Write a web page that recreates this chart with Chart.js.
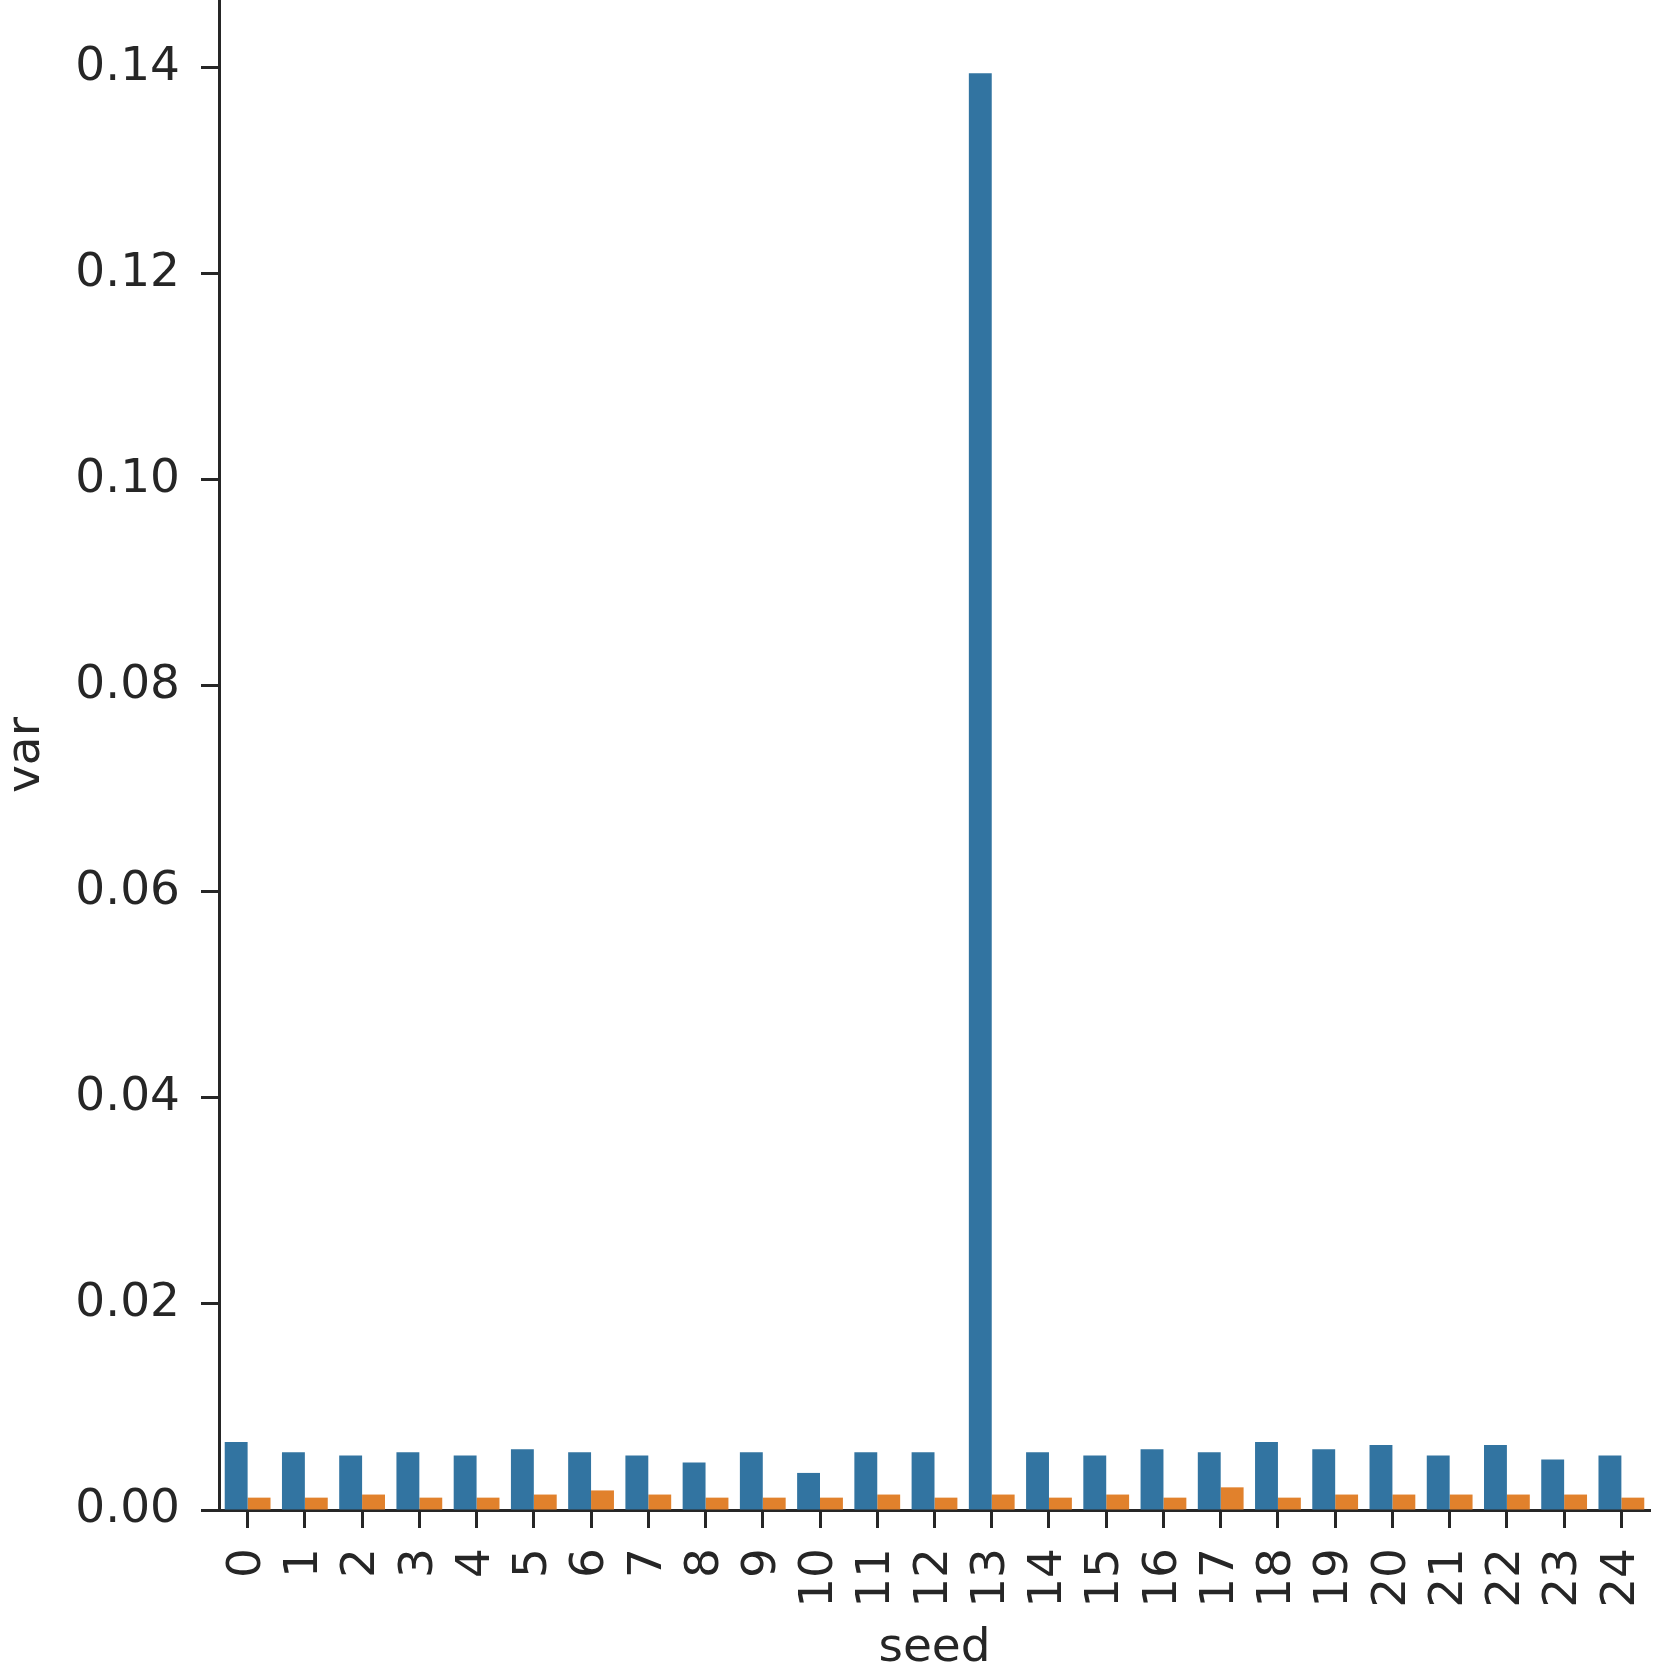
<!DOCTYPE html>
<html>
<head>
<meta charset="utf-8">
<script src="https://cdn.jsdelivr.net/npm/chart.js@4/dist/chart.umd.min.js"></script>
<style>
  html, body { margin: 0; padding: 0; background: #ffffff; }
  #wrap { width: 1661px; height: 1664px; }
</style>
</head>
<body>
<div id="wrap"><canvas id="c" width="1661" height="1664"></canvas></div>
<script>
const categories = ['0','1','2','3','4','5','6','7','8','9','10','11','12','13','14','15','16','17','18','19','20','21','22','23','24'];
const seriesBlue = [0.0066, 0.0056, 0.0053, 0.0056, 0.0053, 0.0059, 0.0056, 0.0053, 0.0046, 0.0056, 0.0036, 0.0056, 0.0056, 0.1395, 0.0056, 0.0053, 0.0059, 0.0056, 0.0066, 0.0059, 0.0063, 0.0053, 0.0063, 0.0049, 0.0053];
const seriesOrange = [0.0012, 0.0012, 0.0015, 0.0012, 0.0012, 0.0015, 0.0019, 0.0015, 0.0012, 0.0012, 0.0012, 0.0015, 0.0012, 0.0015, 0.0012, 0.0015, 0.0012, 0.0022, 0.0012, 0.0015, 0.0015, 0.0015, 0.0015, 0.0015, 0.0012];
const yTickStep = 0.02;

const ink = '#262626';
const fontSpec = { family: 'DejaVu Sans', size: 47 };

new Chart(document.getElementById('c'), {
  type: 'bar',
  data: {
    labels: categories,
    datasets: [
      { data: seriesBlue, backgroundColor: '#3274a1', borderWidth: 0, categoryPercentage: 0.8, barPercentage: 1.0 },
      { data: seriesOrange, backgroundColor: '#e1812c', borderWidth: 0, categoryPercentage: 0.8, barPercentage: 1.0 }
    ]
  },
  options: {
    responsive: false,
    devicePixelRatio: 1,
    animation: false,
    layout: { padding: { left: 0, right: 11, top: 0, bottom: 0 } },
    plugins: { legend: { display: false }, tooltip: { enabled: false } },
    scales: {
      x: {
        type: 'category',
        offset: true,
        grid: { display: true, drawOnChartArea: false, drawTicks: true, tickLength: 18, tickWidth: 3, tickColor: ink, offset: false },
        border: { display: true, color: ink, width: 3 },
        ticks: { autoSkip: false, maxRotation: 90, minRotation: 90, padding: 20, font: fontSpec, color: ink },
        title: { display: true, text: 'seed', font: fontSpec, color: ink, padding: { top: 0, bottom: -13 } },
        afterFit: (s) => { s.height = 154; s.paddingLeft = 0; s.paddingRight = 0; }
      },
      y: {
        min: 0,
        max: 0.1466,
        grid: { display: true, drawOnChartArea: false, drawTicks: true, tickLength: 18, tickWidth: 3, tickColor: ink },
        border: { display: true, color: ink, width: 3 },
        ticks: { stepSize: yTickStep, includeBounds: false, padding: 21, font: fontSpec, color: ink,
                 callback: (v) => Number(v).toFixed(2) },
        title: { display: true, text: 'var', font: fontSpec, color: ink, padding: { top: -1, bottom: 0 } },
        afterFit: (s) => { s.width = 219; s.paddingTop = 0; s.paddingBottom = 0; }
      }
    }
  }
});
</script>
</body>
</html>
